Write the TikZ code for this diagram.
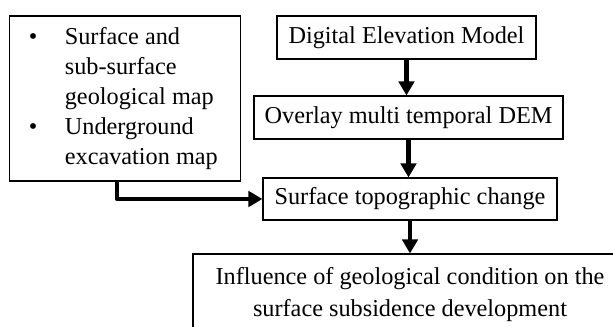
\documentclass[tikz,border=0pt]{standalone}
\usepackage{fontspec}
\setmainfont{Liberation Serif}
\usepackage{array}
\usetikzlibrary{arrows.meta}
\tikzset{
	caja/.style={draw, line width=0.8pt, inner sep=0pt, align=center,
		font=\fontsize{18.2}{24}\selectfont},
	flecha/.style={line width=3.4pt, line join=round,
		-{Triangle[width=11.5pt, length=10.5pt]}}
}

\begin{document}
\begin{tikzpicture}[x=0.75pt, y=-0.75pt]
	% Marco de la figura
	\useasboundingbox (0,0) rectangle (613,327);
	\clip (0,0) rectangle (613,327);

	% Mapas de entrada
	\node[caja, minimum width=168pt, minimum height=123.75pt, align=left,
		font=\fontsize{18.2}{22.5}\selectfont] (mapas) at (125,98.5)
		{\begin{tabular}{@{\hspace{14.5pt}}p{27pt}@{}l@{\hspace{17pt}}}
			\textbullet & Surface and\\
			 & sub-surface\\
			 & geological map\\
			\textbullet & Underground\\
			 & excavation map
		\end{tabular}};

	% Cadena del DEM
	\node[caja, minimum width=194.25pt, minimum height=32.25pt] (dem) at (406.5,37.5) {Digital Elevation Model};
	\node[caja, minimum width=231.75pt, minimum height=32.25pt] (overlay) at (408.5,117.5) {Overlay multi temporal DEM};
	\node[caja, minimum width=220.5pt, minimum height=31.5pt] (topo) at (410,199) {Surface topographic change};

	% Resultado (cortado por el borde)
	\node[caja, minimum width=325.5pt, minimum height=61.5pt] (influ) at (410,295)
		{Influence of geological condition on the\\surface subsidence development};

	% Flechas
	\draw[flecha] (dem.south) -- (dem.south |- overlay.north);
	\draw[flecha] (overlay.south) -- (overlay.south |- topo.north);
	\draw[flecha] (topo.south) -- (topo.south |- influ.north);
	\draw[flecha] ([xshift=-6pt]mapas.south) |- (topo.west);
\end{tikzpicture}
\end{document}
